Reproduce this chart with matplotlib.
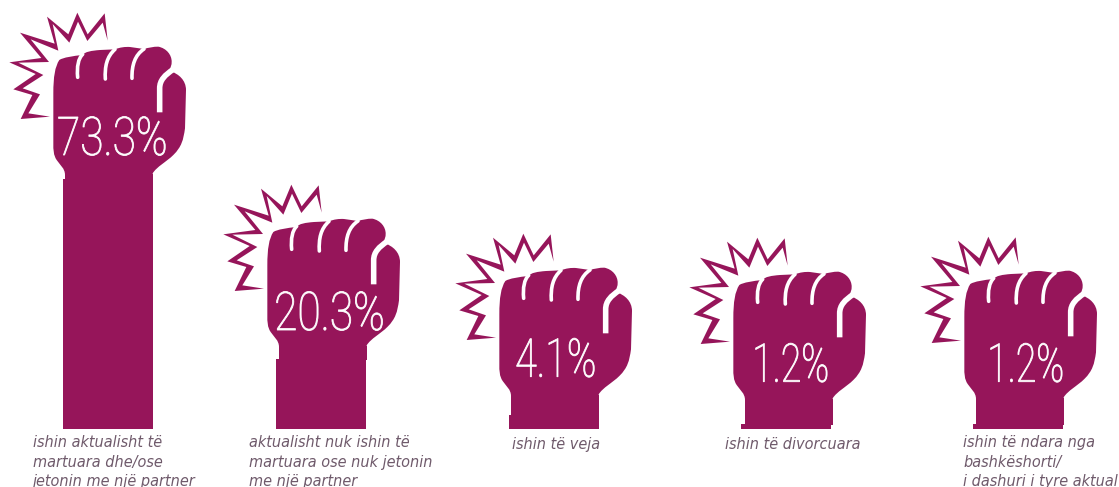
import matplotlib
matplotlib.use("Agg")
import matplotlib.pyplot as plt
from matplotlib.patches import PathPatch, Rectangle
from matplotlib.path import Path
from matplotlib.patheffects import AbstractPathEffect
from matplotlib.transforms import Affine2D

values = [73.3, 20.3, 4.1, 1.2, 1.2]
value_labels = ["73.3%", "20.3%", "4.1%", "1.2%", "1.2%"]
captions = [
    "ishin aktualisht të\nmartuara dhe/ose\njetonin me një partner",
    "aktualisht nuk ishin të\nmartuara ose nuk jetonin\nme një partner",
    "ishin të veja",
    "ishin të divorcuara",
    "ishin të ndara nga\nbashkëshorti/\ni dashuri i tyre aktual",
]

# layout, in pixels of the 1119x487 picture
W, H = 1119, 487
BASE_PX = 428.5
PX_PER_PCT = 3.4
BAR_W = 90
bar_x = [108, 321, 554, 786, 1018]
fist_dx = [0, 214, 446, 680, 911]
fist_dy = [0, 172, 221, 225, 224]
label_x = [112.5, 329.5, 556, 790.5, 1025.5]
label_base = [155, 330, 376.7, 381.7, 381.7]
label_squeeze = [0.795, 0.795, 0.74, 0.7, 0.7]
caption_x = [33, 249, 512, 725, 963]
CAPTION_Y = 449
LINE_PX = 18.3

COLOR = "#96155a"
TEXT_COLOR = "#6f5a6b"

M, L, C = Path.MOVETO, Path.LINETO, Path.CURVE4


def build(*segs):
    verts, codes = [], []
    for seg in segs:
        pts = seg[1:]
        verts.extend(pts)
        codes.extend([seg[0]] * len(pts))
    return Path(verts, codes)


# fist drawn once in the coordinates of the 3x crop, then moved around
fist = build(
    (M, (195, 525)),
    (C, (195, 505), (180, 495), (170, 480)),
    (C, (160, 465), (160, 450), (160, 430)),
    (L, (160, 280)),
    (C, (160, 230), (165, 200), (178, 180)),
    (C, (190, 172), (220, 168), (247, 165)),
    (C, (255, 155), (275, 152), (300, 150)),
    (L, (345, 148)),
    (C, (360, 142), (375, 140), (390, 141)),
    (L, (432, 147)),
    (C, (445, 143), (460, 140), (475, 140)),
    (C, (500, 145), (515, 165), (515, 185)),
    (C, (515, 205), (505, 215), (490, 228)),
    (L, (515, 215)),
    (C, (535, 222), (558, 240), (558, 270)),
    (L, (555, 385)),
    (C, (550, 420), (545, 440), (520, 465)),
    (C, (500, 485), (470, 500), (458, 520)),
    (L, (458, 525)),
    (L, (195, 525)),
)
finger_gaps = [
    build((M, (248, 163)), (C, (235, 175), (230, 200), (233, 232))),
    build((M, (345, 148)), (C, (320, 170), (314, 200), (316, 237))),
    build((M, (432, 147)), (C, (405, 165), (395, 195), (396, 235))),
]
thumb_gap = build((M, (520, 208)), (C, (495, 225), (479, 240), (479, 265)), (L, (479, 337)))
# zigzag with both of its sides, so the two ends can run out thin
burst = Path([
    (323, 122), (314, 40), (263, 103), (232, 38), (205, 103), (141, 50), (164, 131),
    (60, 98), (124, 174), (28, 187), (107, 222), (40, 268), (97, 285), (62, 357), (150, 350),
    (85, 340), (120, 283), (68, 265), (130, 225), (55, 188), (147, 186), (92, 118),
    (175, 152), (158, 72), (208, 128), (234, 65), (262, 123), (308, 68), (323, 122),
])
WRIST_L, WRIST_R = 65, 152.7


class Squeeze(AbstractPathEffect):
    # narrows the text around its own middle, the fonts here have no condensed cut
    def __init__(self, factor, extra=0.0):
        super().__init__()
        self.factor = factor
        self.extra = extra

    def draw_path(self, renderer, gc, tpath, affine, rgbFace=None):
        mid = affine.transform_path(tpath).get_extents()
        cx = (mid.x0 + mid.x1) / 2
        squeeze = Affine2D().translate(-cx, 0).scale(self.factor, 1).translate(cx, 0)
        gc2 = renderer.new_gc()
        gc2.copy_properties(gc)
        gc2.set_linewidth(self.extra)
        gc2.set_foreground(rgbFace)
        renderer.draw_path(gc2, tpath, affine + squeeze, rgbFace)
        gc2.restore()


fig = plt.figure(figsize=(W / 100, H / 100), dpi=100)
ax = fig.add_axes([0, 0, 1, 1])
ax.set_xlim(0, W)
ax.set_ylim(-(H - BASE_PX) / PX_PER_PCT, BASE_PX / PX_PER_PCT)
ax.axis("off")

ax.bar(bar_x, values, width=BAR_W, color=COLOR, linewidth=0, zorder=2)

to_display = Affine2D().scale(1, -1).translate(0, H)

for i, val in enumerate(values):
    place = Affine2D().scale(1 / 3).translate(fist_dx[i], fist_dy[i]) + to_display
    ax.add_patch(PathPatch(fist, facecolor=COLOR, edgecolor="none", transform=place, zorder=3))
    # wrist runs down from the fist to the top of the bar
    wrist_top = 525 / 3 + fist_dy[i]
    wrist_bot = BASE_PX - val * PX_PER_PCT
    ax.add_patch(Rectangle((WRIST_L + fist_dx[i], wrist_top - 1), WRIST_R - WRIST_L, wrist_bot - wrist_top + 2,
                           facecolor=COLOR, edgecolor="none", transform=to_display, zorder=3))
    for gap in finger_gaps:
        ax.add_patch(PathPatch(gap, facecolor="none", edgecolor="white", lw=2.6, capstyle="round",
                               transform=place, zorder=4))
    ax.add_patch(PathPatch(thumb_gap, facecolor="none", edgecolor="white", lw=4, capstyle="butt",
                           transform=place, zorder=4))
    ax.add_patch(PathPatch(burst, facecolor=COLOR, edgecolor="none", transform=place, zorder=3))

    ax.text(label_x[i], H - label_base[i], value_labels[i], color="white", fontsize=38.5,
            family="Roboto", weight="light", ha="center", va="baseline",
            transform=Affine2D(), zorder=5, path_effects=[Squeeze(label_squeeze[i], 0.6)])
    # va baseline sits on the last line of the block
    last_line = CAPTION_Y + captions[i].count("\n") * LINE_PX
    ax.text(caption_x[i], H - last_line, captions[i], color=TEXT_COLOR, fontsize=10.45,
            family="DejaVu Sans", style="italic", ha="left", va="baseline",
            linespacing=1.34, transform=Affine2D(), zorder=5)

fig.savefig("out.png", dpi=100)
